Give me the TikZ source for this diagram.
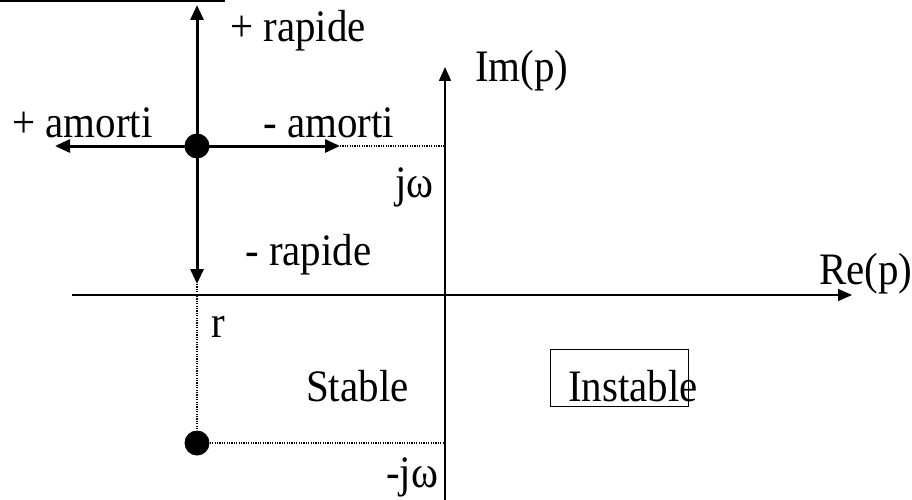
\documentclass[tikz,border=0pt]{standalone}
\usepackage{fontspec}
\setmainfont[FakeStretch=0.91]{Liberation Serif}
\usetikzlibrary{arrows.meta}
\begin{document}
\begin{tikzpicture}[x=1pt,y=-1pt,
  lbl/.style={font=\fontsize{45}{52}\selectfont, inner sep=0pt, anchor=base west},
  pole/.style={circle, fill=black, minimum size=25pt, inner sep=0pt},
  thickarrow/.style={line width=3pt, -{Triangle[length=15pt,width=13pt]}},
  axisarrow/.style={line width=1.5pt, -{Triangle[length=14pt,width=12pt]}},
  dotline/.style={line width=1.2pt, dash pattern=on 1.2pt off 1.2pt}]
\useasboundingbox (0,0) rectangle (912,500);
% top rule
\coordinate (tl) at (0,1);
\coordinate (tr) at (225,1);
\draw[line width=2pt] (tl) -- (tr);
% axes
\coordinate (imlow) at (445,500);
\coordinate (imtop) at (445,67);
\coordinate (releft) at (72,295);
\coordinate (reright) at (852,295);
\draw[axisarrow] (imlow) -- (imtop);
\draw[axisarrow] (releft) -- (reright);
% poles
\node[pole] (p1) at (197,146) {};
\node[pole] (p2) at (197,443) {};
\coordinate (up) at (197,5);
\coordinate (down) at (197,284);
\coordinate (left) at (55,146);
\coordinate (right) at (340,146);
\coordinate (imjw) at (445,146);
\coordinate (immjw) at (445,443);
\draw[thickarrow] (p1.center) -- (up);
\draw[thickarrow] (p1.center) -- (down);
\draw[thickarrow] (p1.center) -- (left);
\draw[thickarrow] (p1.center) -- (right);
\draw[dotline] (right) -- (imjw);
\draw[dotline] (down) -- (p2);
\draw[dotline] (p2) -- (immjw);
% labels
\node[lbl] (rp) at (230,42) {+ rapide};
\node[lbl] (pa) at (12,137) {+ amorti};
\node[lbl] (ma) at (263,137) {- amorti};
\node[lbl] (im) at (475,82) {Im(p)};
\node[lbl] (jw) at (395,197) {jω};
\node[lbl] (mr) at (245,265) {- rapide};
\node[lbl] (re) at (819,284) {Re(p)};
\node[lbl] (r) at (211,337) {r};
\node[lbl] (st) at (306,401) {Stable};
\node[lbl] (ins) at (568,401) {Instable};
\draw[line width=1pt] (550,349) rectangle (688,406);
\node[lbl] (mjw) at (386,487) {-jω};
\end{tikzpicture}
\end{document}
